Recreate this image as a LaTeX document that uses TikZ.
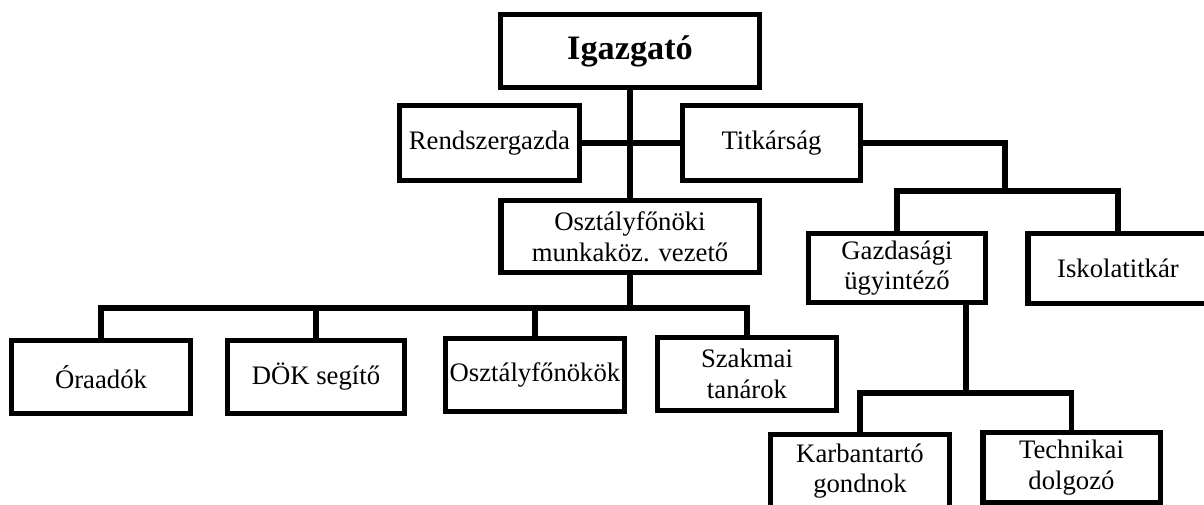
\documentclass[tikz,border=0pt]{standalone}
\usepackage{fontspec}
\setmainfont{Liberation Serif}
\begin{document}
\begin{tikzpicture}[x=0.02cm,y=-0.02cm,
    unitbox/.style={draw=black, line width=3.1pt, fill=white, align=center, inner sep=1pt,
      minimum width=3.57cm, minimum height=1.45cm},
    headbox/.style={unitbox, minimum width=5.19cm, font=\fontsize{19.5}{22}\selectfont\bfseries},
    link/.style={line width=3.1pt}]
  \tikzstyle{every node}=[font=\fontsize{15.2}{17.5}\selectfont]
  \useasboundingbox (0,0) rectangle (1204,504);
  \clip (0,0) rectangle (1204,504);

  % top
  \node[headbox] (igazgato) at (630,51) {Igazgató};
  \node[unitbox, minimum width=3.59cm, minimum height=1.49cm] (rendszer) at (489.5,143) {Rendszergazda};
  \node[unitbox, minimum width=3.55cm, minimum height=1.49cm] (titkarsag) at (771.5,143) {Titkárság};
  \node[unitbox, minimum width=5.17cm, minimum height=1.43cm] (osztfo) at (630,236.5) {Osztályfőnöki\\munkaköz. vezető};

  % right branch
  \node[unitbox, minimum width=3.53cm, minimum height=1.37cm] (gazd) at (897,268) {Gazdasági\\ügyintéző};
  \node[unitbox, minimum width=3.61cm, minimum height=1.39cm] (iskola) at (1118,268.5) {Iskolatitkár};
  \node[unitbox] (karban) at (860,471) {Karbantartó\\gondnok};
  \node[unitbox, minimum width=3.55cm, minimum height=1.41cm] (techn) at (1071.5,467.5) {Technikai\\dolgozó};

  % left branch
  \node[unitbox] (oraadok) at (101,377) {Óraadók};
  \node[unitbox, minimum width=3.53cm] (dok) at (316,377) {DÖK segítő};
  \node[unitbox] (osztfonokok) at (535,375) {Osztályfőnökök};
  \node[unitbox] (szakmai) at (747,374) {Szakmai\\tanárok};

  \coordinate (tbar) at (1005,191);
  \coordinate (obar) at (630,308);
  \coordinate (gbar) at (966,393);

  \draw[link] (igazgato) -- (osztfo);
  \draw[link] (rendszer) -- (titkarsag);
  \draw[link] (titkarsag.east) -| (tbar);
  \draw[link] (gazd.north) |- (tbar) -| (iskola.north);
  \draw[link] (osztfo) -- (obar);
  \draw[link] (oraadok.north) |- (obar) -| (szakmai.north);
  \draw[link] (dok.north) -- (dok.north |- obar);
  \draw[link] (osztfonokok.north) -- (osztfonokok.north |- obar);
  \draw[link] (gbar |- gazd.south) -- (gbar);
  \draw[link] (karban.north) |- (gbar) -| (techn.north);
\end{tikzpicture}
\end{document}
